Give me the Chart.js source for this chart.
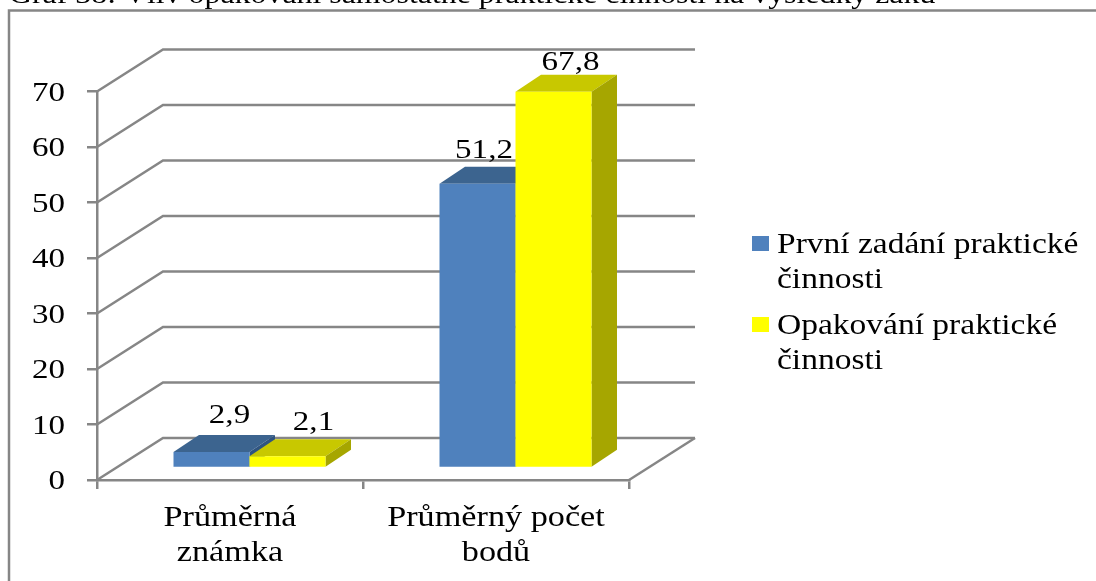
<!DOCTYPE html>
<html lang="cs">
<head>
<meta charset="utf-8">
<title>Graf 38</title>
<style>
html,body{margin:0;padding:0;background:#fff;overflow:hidden}
canvas{display:block;filter:blur(0.5px)}
</style>
<script src="https://cdn.jsdelivr.net/npm/chart.js@4/dist/chart.umd.min.js"></script>
</head>
<body>
<canvas id="c" width="1096" height="581"></canvas>
<script>
const chartTitle = 'Graf 38: Vliv opakování samostatné praktické činnosti na výsledky žáků';
const categories = [['Průměrná', 'známka'], ['Průměrný počet', 'bodů']];
const firstName = ['První zadání praktické', 'činnosti'];
const repeatName = ['Opakování praktické', 'činnosti'];
const firstValues = [2.9, 51.2];
const repeatValues = [2.1, 67.8];

const FONT = '"Liberation Serif", "Times New Roman", serif';
const STRETCH = 1.18;
const GRID = '#868686';
const WALL = {dx: 66, dy: -42};
const BAR_SHIFT = {dx: 19.5, dy: -12};
const BAR_DEPTH = {dx: 25.5, dy: -17};
const LABEL_OFFSETS = [[{dx: 18, dy: -29}, {dx: 6.5, dy: -26}], [{dx: 26, dy: -26}, {dx: 17, dy: -22}]];

function poly(ctx, pts, fill) {
  ctx.beginPath();
  pts.forEach((p, i) => i ? ctx.lineTo(p[0], p[1]) : ctx.moveTo(p[0], p[1]));
  ctx.closePath();
  ctx.fillStyle = fill;
  ctx.fill();
}

const stretchText = {
  id: 'stretchText',
  beforeInit(chart) {
    const ctx = chart.ctx;
    const orig = ctx.fillText.bind(ctx);
    ctx.fillText = function (text, x, y) {
      ctx.save();
      ctx.translate(x, y);
      ctx.scale(STRETCH, 1);
      orig(text, 0, 0);
      ctx.restore();
    };
  }
};

const page = {
  id: 'page',
  beforeDraw(chart) {
    const ctx = chart.ctx;
    ctx.save();
    ctx.fillStyle = '#fff';
    ctx.fillRect(0, 0, chart.width, chart.height);
    ctx.strokeStyle = GRID;
    ctx.lineWidth = 2.5;
    ctx.beginPath();
    ctx.moveTo(9, chart.height);
    ctx.lineTo(9, 10.5);
    ctx.lineTo(chart.width, 10.5);
    ctx.stroke();
    ctx.fillStyle = '#000';
    ctx.font = '27px ' + FONT;
    ctx.textAlign = 'left';
    ctx.textBaseline = 'alphabetic';
    ctx.fillText(chartTitle, 9, 3);
    ctx.restore();
  }
};

const walls = {
  id: 'walls',
  beforeDatasetsDraw(chart) {
    const ctx = chart.ctx, y = chart.scales.y, a = chart.chartArea;
    ctx.save();
    ctx.strokeStyle = GRID;
    ctx.lineWidth = 2.5;
    y.ticks.forEach(t => {
      const py = y.getPixelForValue(t.value);
      ctx.beginPath();
      ctx.moveTo(a.left, py);
      ctx.lineTo(a.left + WALL.dx, py + WALL.dy);
      ctx.lineTo(a.right + WALL.dx, py + WALL.dy);
      ctx.stroke();
    });
    ctx.beginPath();
    ctx.moveTo(a.right, a.bottom);
    ctx.lineTo(a.right + WALL.dx, a.bottom + WALL.dy);
    ctx.stroke();
    ctx.restore();
  }
};

const bars3d = {
  id: 'bars3d',
  // Bars are painted left-to-right below so that the yellow series overlaps the blue one.
  beforeDatasetDraw() {
    return false;
  },
  afterDatasetsDraw(chart) {
    const ctx = chart.ctx;
    chart.data.datasets.forEach((ds, i) => {
      const meta = chart.getDatasetMeta(i);
      ctx.save();
      ctx.translate(BAR_SHIFT.dx, BAR_SHIFT.dy);
      meta.data.forEach(el => {
        const p = el.getProps(['x', 'y', 'base', 'width'], true);
        const l = p.x - p.width / 2, r = p.x + p.width / 2;
        const d = BAR_DEPTH;
        poly(ctx, [[l, p.y], [r, p.y], [r + d.dx, p.y + d.dy], [l + d.dx, p.y + d.dy]], ds.topColor);
        poly(ctx, [[r, p.y], [r + d.dx, p.y + d.dy], [r + d.dx, p.base + d.dy], [r, p.base]], ds.sideColor);
      });
      meta.controller.draw();
      ctx.restore();
    });
    ctx.save();
    ctx.fillStyle = '#000';
    ctx.font = '28px ' + FONT;
    ctx.textAlign = 'center';
    ctx.textBaseline = 'alphabetic';
    chart.data.datasets.forEach((ds, i) => {
      chart.getDatasetMeta(i).data.forEach((el, j) => {
        const o = LABEL_OFFSETS[i][j];
        const p = el.getProps(['x', 'y'], true);
        ctx.fillText(String(ds.data[j]).replace('.', ','), p.x + BAR_SHIFT.dx + o.dx, p.y + BAR_SHIFT.dy + o.dy);
      });
    });
    ctx.restore();
  }
};

const sideLegend = {
  id: 'sideLegend',
  afterDraw(chart) {
    const ctx = chart.ctx;
    const left = 752, textLeft = 777, tops = [236, 317], lineH = 35;
    ctx.save();
    ctx.font = '28.4px ' + FONT;
    ctx.textAlign = 'left';
    ctx.textBaseline = 'alphabetic';
    chart.data.datasets.forEach((ds, i) => {
      ctx.fillStyle = ds.backgroundColor;
      ctx.fillRect(left, tops[i], 17, 15);
      ctx.fillStyle = '#000';
      ds.labelLines.forEach((line, k) => ctx.fillText(line, textLeft, tops[i] + 17 + k * lineH));
    });
    ctx.restore();
  }
};

new Chart(document.getElementById('c'), {
  type: 'bar',
  data: {
    labels: categories,
    datasets: [
      {label: firstName.join(' '), labelLines: firstName, data: firstValues, backgroundColor: '#4F81BD', topColor: '#3C648F', sideColor: '#2F5480', clip: false},
      {label: repeatName.join(' '), labelLines: repeatName, data: repeatValues, backgroundColor: '#FFFF00', topColor: '#C8C800', sideColor: '#A6A600', clip: false}
    ]
  },
  plugins: [stretchText, page, walls, bars3d, sideLegend],
  options: {
    responsive: false,
    animation: false,
    events: [],
    layout: {padding: {left: 0, top: 91.5, right: 467, bottom: 0}},
    datasets: {bar: {categoryPercentage: 0.5714, barPercentage: 1, borderWidth: 0}},
    plugins: {legend: {display: false}, title: {display: false}, tooltip: {enabled: false}},
    scales: {
      x: {
        afterFit(s) { s.height = 101; },
        grid: {display: true, drawOnChartArea: false, drawTicks: true, tickLength: 9, color: GRID, lineWidth: 2.5, offset: true},
        border: {display: true, color: GRID, width: 2.5},
        ticks: {color: '#000', font: {family: FONT, size: 29, lineHeight: 1.21}, padding: 12, maxRotation: 0, minRotation: 0, autoSkip: false}
      },
      y: {
        min: 0,
        max: 70,
        afterFit(s) { s.width = 97; },
        grid: {display: true, drawOnChartArea: false, drawTicks: true, tickLength: 10, color: GRID, lineWidth: 2.5},
        border: {display: true, color: GRID, width: 2.5},
        ticks: {color: '#000', stepSize: 10, font: {family: FONT, size: 28}, padding: 22, labelOffset: 2}
      }
    }
  }
});
</script>
</body>
</html>
